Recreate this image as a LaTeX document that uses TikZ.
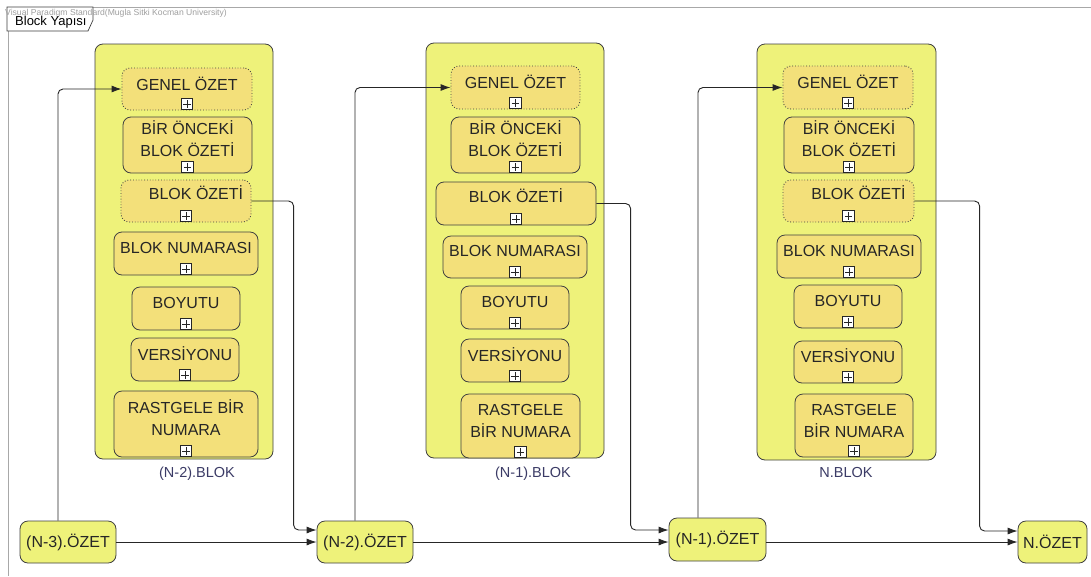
\documentclass[tikz,border=0pt]{standalone}
\usepackage{fontspec}
\setmainfont{Liberation Sans}
\usetikzlibrary{arrows.meta}
\definecolor{contfill}{HTML}{EEF27A}
\definecolor{boxfill}{HTML}{F3E07A}
\definecolor{edgecol}{HTML}{404040}
\definecolor{lblcol}{HTML}{3B3B66}
\definecolor{framecol}{HTML}{A8A8A8}
\tikzset{
  container/.style={draw=edgecol, fill=contfill, rounded corners=8pt, line width=0.8pt, inner sep=0},
  ibox/.style={draw=edgecol, fill=boxfill, rounded corners=8pt, line width=0.8pt, inner sep=0},
  dotbox/.style={dotted, line width=0.9pt},
  solidbox/.style={},
  itext/.style={font=\fontsize{16}{22}\selectfont, align=center, text=black!85, inner sep=0, anchor=base},
  plusicon/.style={draw=black!85, fill=white, minimum size=11.5pt, inner sep=0, line width=0.6pt,
    path picture={\draw[line width=0.8pt]
      ([xshift=2pt]path picture bounding box.west) -- ([xshift=-2pt]path picture bounding box.east)
      ([yshift=2pt]path picture bounding box.south) -- ([yshift=-2pt]path picture bounding box.north);}},
  conn/.style={draw=black!85, line width=0.9pt, rounded corners=5pt, -{Latex[length=10pt,width=7pt]}},
  oznode/.style={draw=edgecol, fill=contfill, rounded corners=8pt, line width=0.8pt,
    font=\fontsize{16}{19}\selectfont, inner sep=0, text=black!85},
  blabel/.style={font=\fontsize{14.5}{16}\selectfont, text=lblcol, inner sep=0, anchor=base},
}
% #8 = offset of the LAST text line's baseline below the box top
\newcommand\ibox[9]{%
  \node[ibox,#1,minimum width={(#5-#3)*1pt},minimum height={(#6-#4)*1pt}] (#2) at ({(#3+#5)/2},{(#4+#6)/2}) {};
  \node[itext] (#2-t) at ({(#3+#5)/2+#7},{#4+#8}) {#9};
  \node[plusicon] (#2-p) at ({(#3+#5)/2},{#6-6}) {};
}
\newcommand\rbox[6]{%
  \node[#1,minimum width={(#5-#3)*1pt},minimum height={(#6-#4)*1pt}] (#2) at ({(#3+#5)/2},{(#4+#6)/2}) {};
}
\begin{document}
\begin{tikzpicture}[x=1pt,y=-1pt]
\fill[white] (0,0) rectangle (1091,576);
\useasboundingbox (0,0) rectangle (1091,576);
% frame
\draw[framecol, line width=1pt] (7,7) -- (1091,7);
\draw[framecol, line width=1pt] (8,7) -- (8,576);
\draw[edgecol, fill=white, line width=0.7pt] (7,7) -- (93,7) -- (93,20) -- (88,31) -- (7,31) -- cycle;
\node[anchor=base west, font=\fontsize{8.6}{10}\selectfont, text=gray!75, inner sep=0] (wm) at (5,15.5) {Visual Paradigm Standard(Mugla Sitki Kocman University)};
\node[anchor=base west, font=\fontsize{13}{15}\selectfont, text=black, inner sep=0] (tab) at (15,25) {Block Yapısı};

% containers
\rbox{container}{c1}{95}{44}{273}{459}
\rbox{container}{c2}{426}{43}{604}{458}
\rbox{container}{c3}{757}{44}{936}{460}
\node[blabel] (l1) at (197,477) {(N-2).BLOK};
\node[blabel] (l2) at (533,477) {(N-1).BLOK};
\node[blabel] (l3) at (846,477) {N.BLOK};

% block 1
\ibox{dotbox}{g1}{122}{68}{252}{110}{0}{22}{GENEL ÖZET}
\ibox{solidbox}{p1}{123}{117}{252}{173}{0}{39}{BİR ÖNCEKİ\\BLOK ÖZETİ}
\ibox{dotbox}{b1}{121}{180}{251}{222}{10}{19}{BLOK ÖZETİ}
\ibox{solidbox}{k1}{114}{232}{258}{275}{0}{21}{BLOK NUMARASI}
\ibox{solidbox}{s1}{132}{287}{240}{330}{0}{21}{BOYUTU}
\ibox{solidbox}{v1}{131}{338}{239}{381}{0}{22}{VERSİYONU}
\ibox{solidbox}{r1}{114}{391}{258}{457}{0}{44}{RASTGELE BİR\\NUMARA}

% block 2
\ibox{dotbox}{g2}{451}{66}{580}{109}{0}{22}{GENEL ÖZET}
\ibox{solidbox}{p2}{451}{117}{580}{173}{0}{39}{BİR ÖNCEKİ\\BLOK ÖZETİ}
\ibox{solidbox}{b2}{436}{182}{596}{225}{0}{20}{BLOK ÖZETİ}
\ibox{solidbox}{k2}{443}{236}{587}{278}{0}{20}{BLOK NUMARASI}
\ibox{solidbox}{s2}{461}{286}{569}{329}{0}{21}{BOYUTU}
\ibox{solidbox}{v2}{461}{339}{569}{382}{0}{22}{VERSİYONU}
\ibox{solidbox}{r2}{461}{394}{580}{458}{0}{43}{RASTGELE\\BİR NUMARA}

% block 3
\ibox{dotbox}{g3}{783}{66}{913}{109}{0}{22}{GENEL ÖZET}
\ibox{solidbox}{p3}{784}{117}{914}{173}{0}{39}{BİR ÖNCEKİ\\BLOK ÖZETİ}
\ibox{dotbox}{b3}{783}{180}{914}{222}{10}{19}{BLOK ÖZETİ}
\ibox{solidbox}{k3}{777}{235}{921}{278}{0}{21}{BLOK NUMARASI}
\ibox{solidbox}{s3}{794}{285}{902}{328}{0}{21}{BOYUTU}
\ibox{solidbox}{v3}{794}{341}{902}{383}{0}{21}{VERSİYONU}
\ibox{solidbox}{r3}{795}{394}{913}{457}{0}{43}{RASTGELE\\BİR NUMARA}

% bottom summary nodes
\node[oznode, minimum width=96pt, minimum height=42pt] (n3) at (68,542) {(N-3).ÖZET};
\node[oznode, minimum width=96pt, minimum height=42pt] (n2) at (365,542) {(N-2).ÖZET};
\node[oznode, minimum width=97pt, minimum height=43pt] (n1) at (717.5,539.5) {(N-1).ÖZET};
\node[oznode, minimum width=69pt, minimum height=42pt] (nn) at (1052.5,542) {N.ÖZET};

% connectors
\draw[conn] ([xshift=-10pt]n3.north) |- (g1.west);
\draw[conn] (b1.east) -| ([xshift=-23pt,yshift=12pt]n2.west) -- ([yshift=12pt]n2.west);
\draw[conn] (n3.east) -- (n2.west);
\draw[conn] ([xshift=-10pt]n2.north) |- (g2.west);
\draw[conn] (b2.east) -| ([xshift=-38pt,yshift=9.5pt]n1.west) -- ([yshift=9.5pt]n1.west);
\draw[conn] (n2.east) -- (n2.east -| n1.west);
\draw[conn] ([xshift=-19.5pt]n1.north) |- (g3.west);
\draw[conn] (b3.east) -| ([xshift=-38pt,yshift=11pt]nn.west) -- ([yshift=11pt]nn.west);
\draw[conn] (n1.east |- nn.west) -- (nn.west);
\end{tikzpicture}
\end{document}
